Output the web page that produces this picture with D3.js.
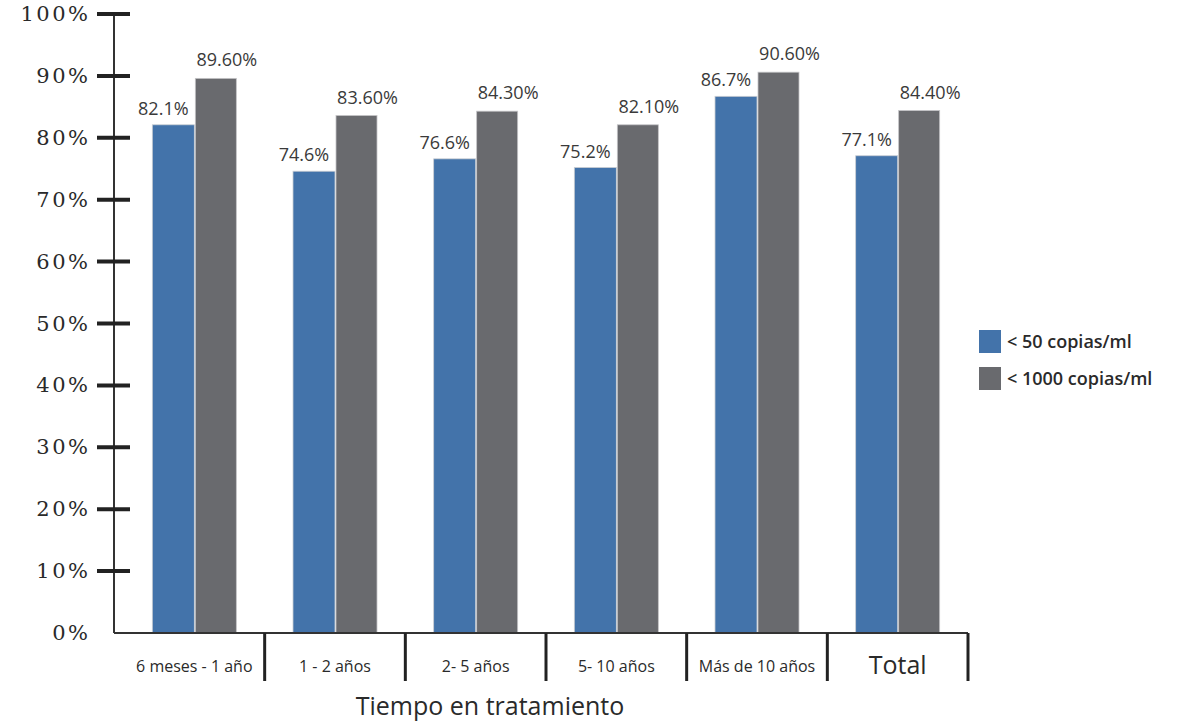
<!DOCTYPE html>
<html><head><meta charset="utf-8">
<script src="https://cdn.jsdelivr.net/npm/d3@7"></script>
<style>body{margin:0;background:#fff}svg{display:block}
.ytl{font-family:"DejaVu Serif","Liberation Serif",Georgia,serif;}
</style>
</head><body>
<svg id="c" width="1183" height="725"></svg>
<script>
const categories = ["6 meses - 1 año","1 - 2 años","2- 5 años","5- 10 años","Más de 10 años","Total"];
const seriesNames = ["< 50 copias/ml","< 1000 copias/ml"];
const below50 = [82.1,74.6,76.6,75.2,86.7,77.1];
const below1000 = [89.6,83.6,84.3,82.1,90.6,84.4];
const below50Labels = ["82.1%","74.6%","76.6%","75.2%","86.7%","77.1%"];
const below1000Labels = ["89.60%","83.60%","84.30%","82.10%","90.60%","84.40%"];
const yTicks = [0,10,20,30,40,50,60,70,80,90,100];
const colors = ["#4373aa","#696a6e"];

const sans = "'Open Sans','Noto Sans',sans-serif";
const svg = d3.select("#c");
const y = d3.scaleLinear().domain([0,100]).range([633,14]);
const x = d3.scaleBand().domain(categories).range([124,968]);
const axisX = 114;

// bars
const bw1 = 42, bw2 = 41;
categories.forEach((c,i)=>{
  const cx = x(c) + x.bandwidth()/2;
  svg.append("rect").attr("x",cx-bw1).attr("y",y(below50[i])).attr("width",bw1).attr("height",y(0)-y(below50[i]))
    .attr("fill",colors[0]).attr("stroke","#c9cdd3").attr("stroke-width",0.8);
  svg.append("rect").attr("x",cx+1).attr("y",y(below1000[i])).attr("width",bw2).attr("height",y(0)-y(below1000[i]))
    .attr("fill",colors[1]).attr("stroke","#c4c4c6").attr("stroke-width",0.8);
  svg.append("text").attr("x",cx-bw1/2-10).attr("y",y(below50[i])-10).attr("text-anchor","middle")
    .attr("font-family",sans).attr("font-size",18).attr("fill","#3a3a3a").text(below50Labels[i]);
  svg.append("text").attr("x",cx+1+bw2/2+11).attr("y",y(below1000[i])-12).attr("text-anchor","middle")
    .attr("font-family",sans).attr("font-size",18).attr("fill","#3a3a3a").text(below1000Labels[i]);
});

// y axis
svg.append("line").attr("x1",axisX).attr("x2",axisX).attr("y1",y(100)).attr("y2",y(0)).attr("stroke","#333").attr("stroke-width",2);
yTicks.forEach(t=>{
  if(t>0) svg.append("line").attr("x1",97).attr("x2",130).attr("y1",y(t)).attr("y2",y(t)).attr("stroke","#222").attr("stroke-width",4);
  svg.append("text").attr("class","ytl").attr("x",90.5).attr("y",y(t)+7).attr("text-anchor","end")
    .attr("font-size",21).attr("letter-spacing",2.5).attr("fill","#2a2a2a")
    .text(t+"%");
});

// x axis
svg.append("line").attr("x1",axisX).attr("x2",968).attr("y1",y(0)).attr("y2",y(0)).attr("stroke","#333").attr("stroke-width",2);
categories.forEach((c,i)=>{
  const xr = x(c)+x.bandwidth();
  svg.append("line").attr("x1",xr).attr("x2",xr).attr("y1",y(0)).attr("y2",681).attr("stroke","#222").attr("stroke-width",3);
  const isTotal = c==="Total";
  svg.append("text").attr("x",x(c)+x.bandwidth()/2).attr("y",isTotal?674:672).attr("text-anchor","middle")
    .attr("font-family",sans).attr("font-size",isTotal?25:16).attr("fill","#2a2a2a").text(c);
});
svg.append("text").attr("x",490).attr("y",715).attr("text-anchor","middle")
  .attr("font-family",sans).attr("font-size",25).attr("fill","#2a2a2a").text("Tiempo en tratamiento");

// legend
seriesNames.forEach((s,i)=>{
  const ly = 330 + i*37;
  svg.append("rect").attr("x",979).attr("y",ly).attr("width",22).attr("height",23).attr("fill",colors[i]);
  svg.append("text").attr("x",1007).attr("y",ly+18).attr("font-family",sans)
    .attr("font-size",18).attr("font-weight",600).attr("fill","#2a2a2a").text(s);
});
</script>
</body></html>
